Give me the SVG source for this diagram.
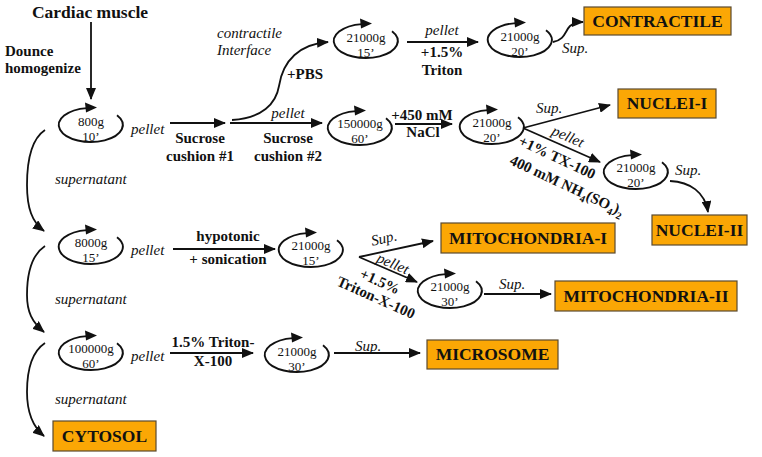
<svg xmlns="http://www.w3.org/2000/svg" width="762" height="457" viewBox="0 0 762 457">
<style>
text{font-family:"Liberation Serif","Times New Roman",serif;fill:#111}
.b{font-weight:bold;font-size:15px}
.i{font-style:italic;font-size:15px}
.c{font-size:13px;text-anchor:middle}
.m{text-anchor:middle}
.bx{fill:#FBA705;stroke:#5a4a30;stroke-width:1.2}
.bt{font-weight:bold;font-size:17.5px;text-anchor:middle}
.ln{fill:none;stroke:#111;stroke-width:1.8}
</style>
<defs>
<marker id="ah" markerUnits="userSpaceOnUse" markerWidth="12" markerHeight="10" refX="11" refY="5" orient="auto"><path d="M0,0 L12,5 L0,10 z" fill="#111"/></marker>
<g id="cf"><path d="M26,-9.8 A32 17 0 1 1 -4,-16.9" fill="none" stroke="#111" stroke-width="1.9"/><path d="M6,-17.5 L-6,-22.5 L-5,-12.5 z" fill="#111"/></g>
</defs>
<g id="connectors">
<path class="ln" d="M91,22 L91,99" marker-end="url(#ah)"/>
<path class="ln" d="M170,123 L225,123" marker-end="url(#ah)"/>
<path class="ln" d="M230,123 L322,123" marker-end="url(#ah)"/>
<path class="ln" d="M232,120 C262,118 276,104 279,86 C283,60 300,44 328,42" marker-end="url(#ah)"/>
<path class="ln" d="M407,42 L478,42" marker-end="url(#ah)"/>
<path class="ln" d="M553,42 C565,40 565,31 570,26 C574,23 577,22 583,22" marker-end="url(#ah)"/>
<path class="ln" d="M395,124 L452,124" marker-end="url(#ah)"/>
<path class="ln" d="M523,128 L610,105" marker-end="url(#ah)"/>
<path class="ln" d="M523,128 L600,162" marker-end="url(#ah)"/>
<path class="ln" d="M670,181 C690,182 705,192 708,212" marker-end="url(#ah)"/>
<path class="ln" d="M173,249 L275,249" marker-end="url(#ah)"/>
<path class="ln" d="M359,257 L433,241" marker-end="url(#ah)"/>
<path class="ln" d="M359,257 L417,282" marker-end="url(#ah)"/>
<path class="ln" d="M484,294 L551,294" marker-end="url(#ah)"/>
<path class="ln" d="M170,353 L253,353" marker-end="url(#ah)"/>
<path class="ln" d="M334,353 L420,353" marker-end="url(#ah)"/>
<path class="ln" d="M45,130 C30,140 27,165 27,185 C27,208 32,222 44,231" marker-end="url(#ah)"/>
<path class="ln" d="M45,246 C30,256 27,278 27,295 C27,312 32,322 44,332" marker-end="url(#ah)"/>
<path class="ln" d="M45,343 C30,353 27,375 27,392 C27,412 32,426 44,436" marker-end="url(#ah)"/>
</g>
<g id="labels">
<text class="b m" x="90" y="18" style="font-size:17.5px">Cardiac muscle</text>
<text class="b" x="5" y="56">Dounce</text>
<text class="b" x="5" y="73">homogenize</text>
<text class="i" x="131" y="134">pellet</text>
<text class="b m" x="200" y="143">Sucrose</text>
<text class="b m" x="200" y="161">cushion #1</text>
<text class="i m" x="288" y="118">pellet</text>
<text class="b m" x="288" y="143">Sucrose</text>
<text class="b m" x="288" y="161">cushion #2</text>
<text class="i" x="217" y="38">contractile</text>
<text class="i" x="217" y="55">Interface</text>
<text class="b" x="287" y="79">+PBS</text>
<text class="i m" x="442" y="35">pellet</text>
<text class="b m" x="442" y="57">+1.5%</text>
<text class="b m" x="442" y="75">Triton</text>
<text class="i" x="562" y="53">Sup.</text>
<text class="b m" x="422" y="120">+450 mM</text>
<text class="b m" x="423" y="137">NaCl</text>
<text class="i" x="536" y="113">Sup.</text>
<text class="i m" transform="translate(566,141) rotate(24)">pellet</text>
<text class="b m" transform="translate(555,162) rotate(25)">+1% TX-100</text>
<text class="b m" transform="translate(565,190) rotate(25)">400 mM NH<tspan font-size="10" dy="4">4</tspan><tspan dy="-4">(SO</tspan><tspan font-size="10" dy="4">4</tspan><tspan dy="-4">)</tspan><tspan font-size="10" dy="4">2</tspan></text>
<text class="i" x="675" y="175">Sup.</text>
<text class="i" x="55" y="184">supernatant</text>
<text class="i" x="131" y="255">pellet</text>
<text class="b m" x="228" y="241">hypotonic</text>
<text class="b m" x="228" y="264">+ sonication</text>
<text class="i m" transform="translate(385,243) rotate(-12)">Sup.</text>
<text class="i m" transform="translate(391,268) rotate(23)">pellet</text>
<text class="b m" transform="translate(378,286) rotate(24)">+1.5%</text>
<text class="b m" transform="translate(374,302) rotate(24)">Triton-X-100</text>
<text class="i m" x="512" y="289">Sup.</text>
<text class="i" x="55" y="304">supernatant</text>
<text class="i" x="131" y="361">pellet</text>
<text class="b m" x="213" y="347">1.5% Triton-</text>
<text class="b m" x="213" y="366">X-100</text>
<text class="i m" x="368" y="351">Sup.</text>
<text class="i" x="55" y="404">supernatant</text>
</g>
<g id="c800"><use href="#cf" transform="translate(91,125)"/><text class="c" x="91" y="126">800g</text><text class="c" x="91" y="141">10’</text></g>
<g id="c21000a"><use href="#cf" transform="translate(366,41)"/><text class="c" x="366" y="42">21000g</text><text class="c" x="366" y="57">15’</text></g>
<g id="c21000b"><use href="#cf" transform="translate(520,40)"/><text class="c" x="520" y="41">21000g</text><text class="c" x="520" y="56">20’</text></g>
<g id="c150000"><use href="#cf" transform="translate(360,128)"/><text class="c" x="360" y="128">150000g</text><text class="c" x="360" y="143">60’</text></g>
<g id="c21000c"><use href="#cf" transform="translate(492,127)"/><text class="c" x="492" y="127">21000g</text><text class="c" x="492" y="142">20’</text></g>
<g id="c21000d"><use href="#cf" transform="translate(636,172)"/><text class="c" x="636" y="172">21000g</text><text class="c" x="636" y="187">20’</text></g>
<g id="c8000"><use href="#cf" transform="translate(91,247)"/><text class="c" x="91" y="247">8000g</text><text class="c" x="91" y="262">15’</text></g>
<g id="c21000e"><use href="#cf" transform="translate(311,250)"/><text class="c" x="311" y="250">21000g</text><text class="c" x="311" y="265">15’</text></g>
<g id="c21000f"><use href="#cf" transform="translate(450,291)"/><text class="c" x="450" y="291">21000g</text><text class="c" x="450" y="306">30’</text></g>
<g id="c100000"><use href="#cf" transform="translate(91,353)"/><text class="c" x="91" y="353">100000g</text><text class="c" x="91" y="368">60’</text></g>
<g id="c21000g"><use href="#cf" transform="translate(297,355)"/><text class="c" x="297" y="356">21000g</text><text class="c" x="297" y="371">30’</text></g>
<g id="contractile"><rect class="bx" x="584" y="7" width="147" height="28"/><text class="bt" x="657.5" y="27">CONTRACTILE</text></g>
<g id="nuclei1"><rect class="bx" x="618" y="89" width="98" height="29"/><text class="bt" x="667" y="109">NUCLEI-I</text></g>
<g id="nuclei2"><rect class="bx" x="652" y="215" width="95" height="30"/><text class="bt" x="699.5" y="236">NUCLEI-II</text></g>
<g id="mito1"><rect class="bx" x="441" y="223" width="174" height="30"/><text class="bt" x="528" y="244">MITOCHONDRIA-I</text></g>
<g id="mito2"><rect class="bx" x="555" y="281" width="182" height="30"/><text class="bt" x="646" y="302">MITOCHONDRIA-II</text></g>
<g id="microsome"><rect class="bx" x="427" y="340" width="131" height="29"/><text class="bt" x="492.5" y="360">MICROSOME</text></g>
<g id="cytosol"><rect class="bx" x="53" y="421" width="103" height="30"/><text class="bt" x="104.5" y="442">CYTOSOL</text></g>
</svg>
